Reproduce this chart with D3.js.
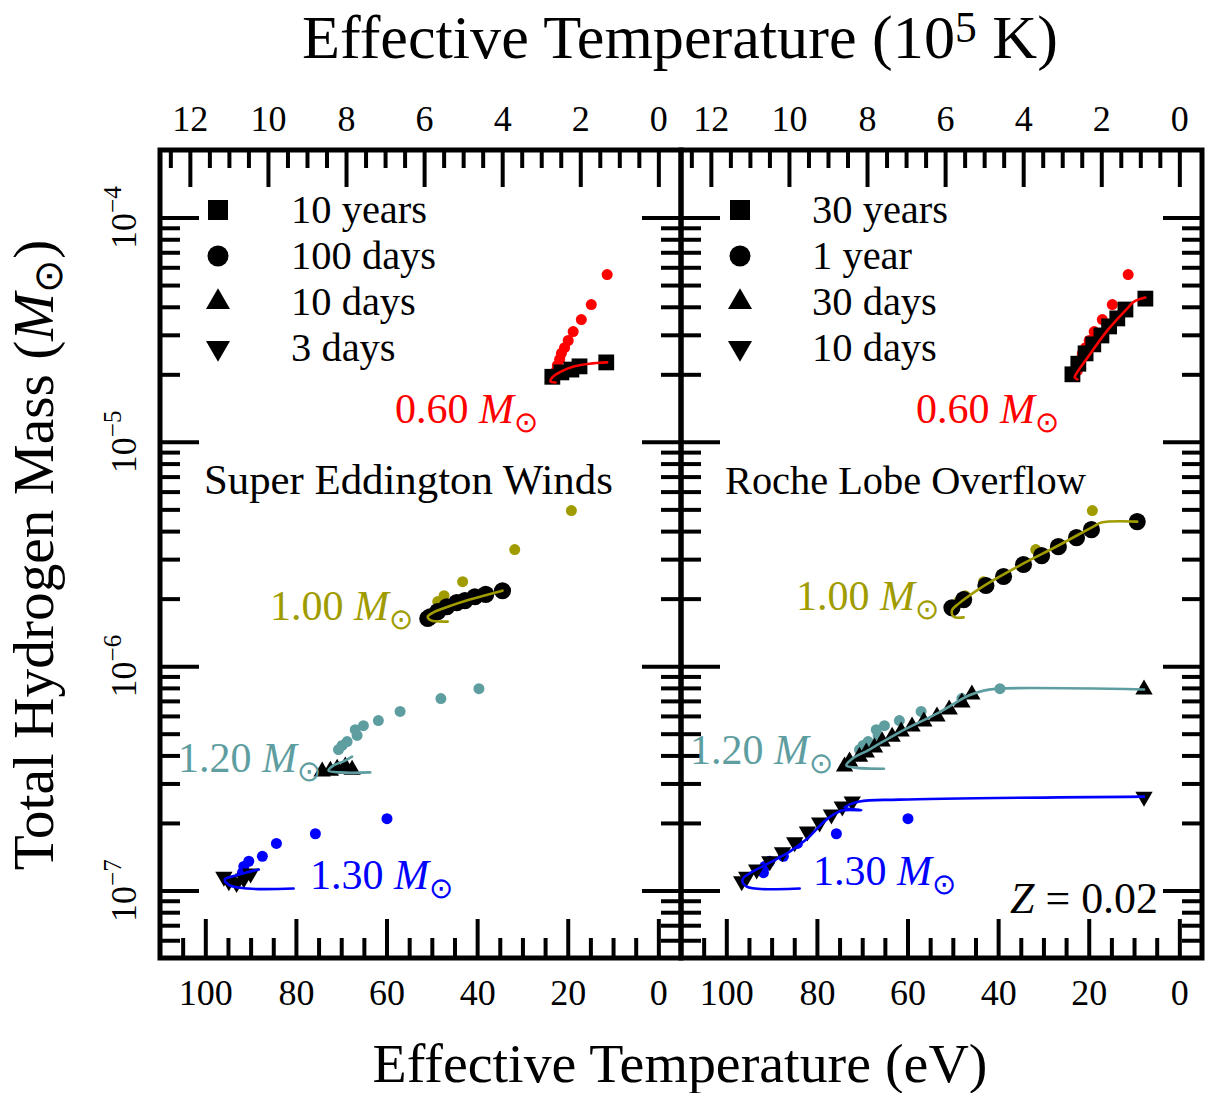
<!DOCTYPE html>
<html>
<head>
<meta charset="utf-8">
<script src="https://cdn.jsdelivr.net/npm/d3@7/dist/d3.min.js"></script>
<style>
html,body{margin:0;padding:0;background:#fff;}
svg{display:block;}
</style>
</head>
<body>
<svg id="chart" width="1205" height="1093"></svg>
<script>
// ---------------- data ----------------
const panelTitles = ["Super Eddington Winds", "Roche Lobe Overflow"];
const legendLabelsSEW = ["10 years", "100 days", "10 days", "3 days"];
const legendLabelsRLO = ["30 years", "1 year", "30 days", "10 days"];
const massNames = ["0.60", "1.00", "1.20", "1.30"];
const massColors = ["#ff0000", "#a09c00", "#5f9ea0", "#0000ff"];
const xTicksEV = [0, 20, 40, 60, 80, 100];
const xTicksK = [0, 2, 4, 6, 8, 10, 12];
const yTickExponents = [-7, -6, -5, -4];
const metallicity = "0.02";

// colored reference dots (same in both panels): [eV, M_H]
const dots060 = [[11.3,5.57e-5],[14.8,4.09e-5],[17.0,3.51e-5],[18.8,3.10e-5],[19.9,2.83e-5],[20.7,2.63e-5],[21.4,2.48e-5],[21.8,2.33e-5],[22.3,2.19e-5],[22.5,2.08e-5]];
const dots100 = [[19.2,4.94e-6],[31.7,3.31e-6],[43.2,2.38e-6],[47.3,2.06e-6],[48.7,1.94e-6]];
const dots120 = [[39.6,7.94e-7],[48.0,7.17e-7],[57.0,6.28e-7],[61.8,5.72e-7],[65.1,5.43e-7],[66.9,5.21e-7],[66.5,4.91e-7],[68.7,4.61e-7],[69.8,4.43e-7],[70.6,4.25e-7]];
const dots130 = [[59.9,2.09e-7],[75.7,1.79e-7],[84.3,1.62e-7],[87.4,1.42e-7],[90.4,1.35e-7],[91.5,1.28e-7],[91.8,1.20e-7]];

// Super Eddington Winds: tracks and time markers
const sewLine060 = [[11.3,2.26e-5],[15.2,2.23e-5],[18.5,2.17e-5],[21.4,2.06e-5],[23.4,1.94e-5],[23.8,1.86e-5],[22.7,1.84e-5]];
const sewMark060 = [[23.4,1.95e-5],[21.4,2.04e-5],[19.2,2.10e-5],[17.4,2.17e-5],[11.5,2.26e-5]];
const sewLine100 = [[34.4,2.17e-6],[41.6,1.98e-6],[47.1,1.82e-6],[49.8,1.73e-6],[50.9,1.66e-6],[50.2,1.60e-6],[46.5,1.58e-6]];
const sewMark100 = [[34.4,2.17e-6],[38.1,2.09e-6],[40.5,2.04e-6],[42.7,1.96e-6],[44.5,1.92e-6],[46.7,1.84e-6],[48.7,1.75e-6],[50.4,1.66e-6],[50.9,1.63e-6]];
const sewLine120 = [[63.6,3.36e-7],[70.2,3.36e-7],[72.8,3.42e-7],[71.7,3.61e-7],[69.5,3.76e-7],[67.6,3.95e-7]];
const sewMark120 = [[74.2,3.39e-7],[72.4,3.42e-7],[70.9,3.49e-7],[69.1,3.57e-7],[67.6,3.45e-7]];
const sewLine130 = [[80.5,1.02e-7],[90.7,1.02e-7],[94.8,1.06e-7],[95.7,1.12e-7],[93.7,1.16e-7],[91.1,1.20e-7],[88.2,1.24e-7]];
const sewMark130 = [[95.9,1.15e-7],[94.8,1.10e-7],[93.1,1.08e-7],[91.5,1.13e-7],[90.0,1.19e-7]];

// Roche Lobe Overflow: tracks and time markers
const rloLine060 = [[7.5,4.40e-5],[10.0,4.22e-5],[11.3,3.97e-5],[15.7,3.17e-5],[20.1,2.40e-5],[22.7,2.02e-5],[23.1,1.94e-5],[22.5,1.90e-5]];
const rloMark060 = [[7.5,4.35e-5],[11.9,3.89e-5],[13.7,3.55e-5],[15.5,3.27e-5],[17.2,2.98e-5],[19.0,2.72e-5],[20.7,2.48e-5],[22.3,2.23e-5],[23.6,2.00e-5]];
const rloLine100 = [[9.3,4.41e-6],[17.2,4.37e-6],[19.0,4.19e-6],[26.7,3.45e-6],[34.4,2.87e-6],[42.7,2.31e-6],[48.7,1.90e-6],[50.2,1.77e-6],[49.8,1.66e-6],[47.6,1.65e-6]];
const rloMark100 = [[9.3,4.41e-6],[19.4,4.06e-6],[22.7,3.74e-6],[26.7,3.41e-6],[30.4,3.11e-6],[34.4,2.84e-6],[38.8,2.51e-6],[42.7,2.29e-6],[47.6,1.98e-6],[50.2,1.82e-6]];
const rloLine120 = [[7.8,7.87e-7],[39.9,7.94e-7],[43.2,7.78e-7],[46.5,7.40e-7],[53.1,6.21e-7],[61.9,5.06e-7],[68.4,4.25e-7],[72.4,3.84e-7],[73.5,3.61e-7],[71.7,3.53e-7],[65.2,3.49e-7]];
const rloMark120 = [[7.8,7.87e-7],[45.8,7.47e-7],[48.0,6.89e-7],[50.8,6.41e-7],[53.5,5.96e-7],[56.4,5.66e-7],[59.0,5.38e-7],[61.4,5.11e-7],[63.4,4.85e-7],[65.6,4.61e-7],[67.3,4.34e-7],[69.1,4.12e-7],[70.6,3.95e-7],[72.8,3.76e-7],[73.9,3.57e-7]];
const rloLine130 = [[7.8,2.62e-7],[61.8,2.54e-7],[70.6,2.49e-7],[73.9,2.34e-7],[70.2,2.28e-7],[74.5,2.27e-7],[77.9,2.07e-7],[82.3,1.69e-7],[86.0,1.49e-7],[90.4,1.33e-7],[96.4,1.12e-7],[95.5,1.04e-7],[83.8,1.02e-7]];
const rloMark130 = [[7.8,2.62e-7],[72.2,2.49e-7],[74.4,2.37e-7],[76.8,2.18e-7],[79.4,2.01e-7],[82.1,1.83e-7],[84.9,1.64e-7],[87.6,1.48e-7],[90.4,1.35e-7],[93.3,1.24e-7],[95.5,1.15e-7],[96.6,1.10e-7]];

// ---------------- layout ----------------
const FONT = '"Liberation Serif","Times New Roman",serif';
const TOP = 150, BOTTOM = 958;
const panelRanges = [[160, 681], [681, 1202]];
const EV_TO_1E5K = 0.1160452;
const svg = d3.select("#chart").style("font-family", FONT);
const y = d3.scaleLog().domain([5e-8, 2e-4]).range([BOTTOM, TOP]);

const yMinor = [];
for (let k = -8; k <= -4; k++) for (let m = 2; m <= 9; m++) {
  const v = m * Math.pow(10, k);
  if (v > 5.01e-8 && v < 1.99e-4) yMinor.push(v);
}
const xMinorEV = d3.range(5, 110, 5).filter(v => v % 20 !== 0);
const xMinorK = d3.range(0.5, 12.6, 0.5).filter(v => v % 2 !== 0);

const panelsData = [
  {title: panelTitles[0], legend: legendLabelsSEW,
   lines: [sewLine060, sewLine100, sewLine120, sewLine130],
   marks: [sewMark060, sewMark100, sewMark120, sewMark130]},
  {title: panelTitles[1], legend: legendLabelsRLO,
   lines: [rloLine060, rloLine100, rloLine120, rloLine130],
   marks: [rloMark060, rloMark100, rloMark120, rloMark130]}
];
const dotsAll = [dots060, dots100, dots120, dots130];

// annotation layout (text placement, pixels)
const massLabelPos = [
  [[395,423],[270,620],[178,772],[310,889]],
  [[916,423],[796,610],[690,764],[813,885]]
];
const titlePos = [[204,494],[725,494]];
const titleWidths = [409, 361];
const legendPos = [[218,291],[740,812]];
const legendRowY = [210,256,302,348];

function styleAxis(g, sw) {
  g.select(".domain").remove();
  g.selectAll(".tick line").attr("stroke", "#000").attr("stroke-width", sw);
  g.selectAll(".tick text").style("font-family", FONT).style("font-size", "36px").attr("fill", "#000");
}
function fitWidth(t, w) {
  const cur = t.node().getComputedTextLength();
  const fs = parseFloat(t.style("font-size"));
  t.style("font-size", (fs * w / cur) + "px");
}

const markerTypes = [d3.symbolSquare, d3.symbolCircle, d3.symbolTriangle, d3.symbolTriangle];
const markerSizes = [250, 230, 130, 130];
const legendSizes = [400, 346, 250, 250];
const markerRot = [0, 0, 0, 180];

panelsData.forEach((P, i) => {
  const r = panelRanges[i];
  const x = d3.scaleLinear().domain([110, -5]).range(r);
  const xk = d3.scaleLinear().domain([110 * EV_TO_1E5K, -5 * EV_TO_1E5K]).range(r);
  const g = svg.append("g");

  // bottom axis
  g.append("g").attr("transform", `translate(0,${BOTTOM})`)
    .call(d3.axisBottom(x).tickValues(xTicksEV).tickSize(-39).tickPadding(21).tickFormat(d3.format("d")))
    .call(a => styleAxis(a, 4));
  g.append("g").attr("transform", `translate(0,${BOTTOM})`)
    .call(d3.axisBottom(x).tickValues(xMinorEV).tickSize(-20).tickFormat(""))
    .call(a => styleAxis(a, 4));
  // top axis (10^5 K)
  g.append("g").attr("transform", `translate(0,${TOP})`)
    .call(d3.axisTop(xk).tickValues(xTicksK).tickSize(-37).tickPadding(19).tickFormat(d3.format("d")))
    .call(a => styleAxis(a, 4));
  g.append("g").attr("transform", `translate(0,${TOP})`)
    .call(d3.axisTop(xk).tickValues(xMinorK).tickSize(-18).tickFormat(""))
    .call(a => styleAxis(a, 4));
  // y ticks, both sides, inward
  const yMajor = yTickExponents.map(e => Math.pow(10, e));
  [[d3.axisLeft, r[0]], [d3.axisRight, r[1]]].forEach(([ax, px]) => {
    g.append("g").attr("transform", `translate(${px},0)`)
      .call(ax(y).tickValues(yMajor).tickSize(-39).tickFormat(""))
      .call(a => styleAxis(a, 4));
    g.append("g").attr("transform", `translate(${px},0)`)
      .call(ax(y).tickValues(yMinor).tickSize(-20).tickFormat(""))
      .call(a => styleAxis(a, 4));
  });

  // data: dots, markers, lines
  const line = d3.line().x(d => x(d[0])).y(d => y(d[1])).curve(d3.curveCatmullRom.alpha(0.5));
  for (let m = 0; m < 4; m++) {
    g.append("g").selectAll("circle").data(dotsAll[m]).join("circle")
      .attr("cx", d => x(d[0])).attr("cy", d => y(d[1])).attr("r", 5.5)
      .attr("fill", massColors[m]);
    g.append("g").selectAll("path").data(P.marks[m]).join("path")
      .attr("transform", d => `translate(${x(d[0])},${y(d[1])}) rotate(${markerRot[m]})`)
      .attr("d", d3.symbol().type(markerTypes[m]).size(markerSizes[m]))
      .attr("fill", "#000");
    g.append("path").datum(P.lines[m]).attr("d", line)
      .attr("fill", "none").attr("stroke", massColors[m]).attr("stroke-width", 2.6)
      .attr("stroke-linejoin", "round").attr("stroke-linecap", "round");
  }

  // legend
  P.legend.forEach((lab, k) => {
    g.append("path")
      .attr("transform", `translate(${legendPos[i][0]},${legendRowY[k]}) rotate(${markerRot[k]})`)
      .attr("d", d3.symbol().type(markerTypes[k]).size(legendSizes[k]))
      .attr("fill", "#000");
    g.append("text").attr("x", legendPos[i][1]).attr("y", legendRowY[k] + 13)
      .style("font-size", "40.5px").text(lab);
  });

  // mass labels
  massNames.forEach((nm, m) => {
    const t = g.append("text").attr("x", massLabelPos[i][m][0]).attr("y", massLabelPos[i][m][1])
      .attr("fill", massColors[m]).style("font-size", "42px");
    t.append("tspan").text(nm + " ");
    t.append("tspan").style("font-style", "italic").text("M");
    t.append("tspan").attr("dy", 9).style("font-size", "0.7em").text("\u2299");
  });

  // panel title
  const pt = g.append("text").attr("x", titlePos[i][0]).attr("y", titlePos[i][1])
    .style("font-size", "42px").text(P.title);
  fitWidth(pt, titleWidths[i]);

  // frame
  g.append("rect").attr("x", r[0]).attr("y", TOP).attr("width", r[1] - r[0]).attr("height", BOTTOM - TOP)
    .attr("fill", "none").attr("stroke", "#000").attr("stroke-width", 5);

  // y tick labels on left panel only
  if (i === 0) {
    yTickExponents.forEach(e => {
      const t = svg.append("text")
        .attr("transform", `translate(136,${y(Math.pow(10, e))}) rotate(-90)`)
        .attr("text-anchor", "middle").style("font-size", "36px");
      t.append("tspan").text("10");
      t.append("tspan").attr("dy", -15).style("font-size", "0.7em").text("\u2212" + (-e));
    });
  }
});

// Z label
const z = svg.append("text").attr("x", 1158).attr("y", 913).attr("text-anchor", "end").style("font-size", "42px");
z.append("tspan").style("font-style", "italic").text("Z");
z.append("tspan").text(" = " + metallicity);
fitWidth(z, 148);

// axis titles
const tt = svg.append("text").attr("x", 680).attr("y", 58).attr("text-anchor", "middle").style("font-size", "50px");
tt.append("tspan").text("Effective Temperature (10");
tt.append("tspan").attr("dy", -16).style("font-size", "0.7em").text("5");
tt.append("tspan").attr("dy", 16).text(" K)");
fitWidth(tt, 756);

const bt = svg.append("text").attr("x", 680).attr("y", 1082).attr("text-anchor", "middle").style("font-size", "50px")
  .text("Effective Temperature (eV)");
fitWidth(bt, 615);

const yt = svg.append("text").attr("transform", "translate(53,555) rotate(-90)").attr("text-anchor", "middle").style("font-size", "50px");
yt.append("tspan").text("Total Hydrogen Mass (");
yt.append("tspan").style("font-style", "italic").text("M");
yt.append("tspan").attr("dy", 9).style("font-size", "0.7em").text("\u2299");
yt.append("tspan").attr("dy", -9).text(")");
fitWidth(yt, 630);
</script>
</body>
</html>
